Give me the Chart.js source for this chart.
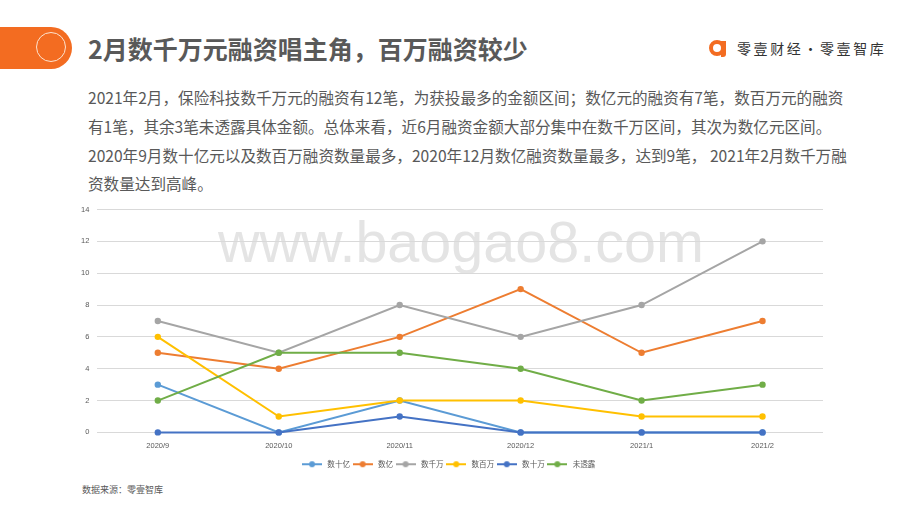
<!DOCTYPE html>
<html>
<head>
<meta charset="utf-8">
<script src="https://cdn.jsdelivr.net/npm/chart.js@4.4.0/dist/chart.umd.min.js"></script>
<style>
  html, body { margin: 0; padding: 0; background: #fff; }
  body { width: 920px; height: 518px; position: relative; overflow: hidden; font-family: "Noto Sans CJK SC", "Noto Sans", sans-serif; }
  .bar { position: absolute; left: 0; top: 27px; width: 72px; height: 42px; background: #f36c21; border-radius: 0 21px 21px 0; }
  .ring { position: absolute; left: 36px; top: 5px; width: 30px; height: 30px; border: 1.5px solid #fde3cf; border-radius: 50%; box-sizing: border-box; }
  .title { position: absolute; left: 88px; top: 31px; font-size: 25px; font-weight: bold; color: #595959; white-space: nowrap; line-height: 34px; }
  .logo { position: absolute; left: 709px; top: 39px; width: 18px; height: 18px; }
  .logo .o { position: absolute; left: 0; top: 1px; width: 16px; height: 16px; border: 4.5px solid #f36c21; border-radius: 50%; box-sizing: border-box; }
  .logo .t { position: absolute; left: 12px; top: 2px; width: 5px; height: 16px; background: #f36c21; border-radius: 0 0 3px 0; }
  .brand { position: absolute; left: 737px; top: 38px; font-size: 14px; letter-spacing: 2.6px; color: #333; white-space: nowrap; line-height: 20px; }
  .para { position: absolute; left: 88px; font-size: 15.6px; color: #595959; white-space: nowrap; line-height: 22px; }
  .wm { position: absolute; left: 218px; top: 212px; font-family: "Liberation Sans", Arial, sans-serif; font-size: 57.5px; color: #e4e4e4; white-space: nowrap; line-height: 60px; }
  .src { position: absolute; left: 82px; top: 483px; font-size: 9px; color: #595959; white-space: nowrap; }
  .chartbox { position: absolute; left: 60px; top: 197px; width: 780px; height: 281px; }
</style>
</head>
<body>
<div class="bar"><div class="ring"></div></div>
<div class="title">2月数千万元融资唱主角，百万融资较少</div>
<div class="logo"><div class="o"></div><div class="t"></div></div>
<div class="brand">零壹财经·零壹智库</div>

<div class="para" style="top:86px">2021年2月，保险科技数千万元的融资有12笔，为获投最多的金额区间；数亿元的融资有7笔，数百万元的融资</div>
<div class="para" style="top:115px">有1笔，其余3笔未透露具体金额。总体来看，近6月融资金额大部分集中在数千万区间，其次为数亿元区间。</div>
<div class="para" style="top:144px">2020年9月数十亿元以及数百万融资数量最多，2020年12月数亿融资数量最多，达到9笔， 2021年2月数千万融</div>
<div class="para" style="top:172px">资数量达到高峰。</div>

<div class="wm">www.baogao8.com</div>
<div class="chartbox"><canvas id="chart"></canvas></div>
<div class="src">数据来源：零壹智库</div>

<script>
// months on the x axis
const months = ['2020/9', '2020/10', '2020/11', '2020/12', '2021/1', '2021/2'];

// number of deals per amount range
const shiYi    = [3, 0, 2, 0, 0, 0];   // 数十亿
const yi       = [5, 4, 6, 9, 5, 7];   // 数亿
const qianWan  = [7, 5, 8, 6, 8, 12];  // 数千万
const baiWan   = [6, 1, 2, 2, 1, 1];   // 数百万
const shiWan   = [0, 0, 1, 0, 0, 0];   // 数十万
const weiTouLu = [2, 5, 5, 4, 2, 3];   // 未透露

const seriesNames  = ['数十亿', '数亿', '数千万', '数百万', '数十万', '未透露'];
const seriesData   = [shiYi, yi, qianWan, baiWan, shiWan, weiTouLu];
const seriesColors = ['#5b9bd5', '#ed7d31', '#a5a5a5', '#ffc000', '#4472c4', '#70ad47'];

// legend marker: short line with a dot in the middle
function legendMarker(color) {
    const c = document.createElement('canvas');
    c.width = 20; c.height = 8;
    const g = c.getContext('2d');
    g.strokeStyle = color; g.lineWidth = 2;
    g.beginPath(); g.moveTo(0, 4); g.lineTo(20, 4); g.stroke();
    g.fillStyle = color;
    g.beginPath(); g.arc(10, 4, 3, 0, Math.PI * 2); g.fill();
    return c;
}

const ctx = document.getElementById('chart').getContext('2d');
new Chart(ctx, {
    type: 'line',
    data: {
        labels: months,
        datasets: seriesNames.map((name, i) => ({
            label: name,
            data: seriesData[i],
            borderColor: seriesColors[i],
            backgroundColor: seriesColors[i],
            borderWidth: 2,
            pointRadius: 3.2,
            pointBorderWidth: 0,
            tension: 0,
            clip: false,
            order: seriesNames.length - i // later series drawn on top, like the original
        }))
    },
    options: {
        responsive: true,
        maintainAspectRatio: false,
        animation: false,
        layout: { padding: { left: 13, right: 17, top: 6, bottom: 0 } },
        scales: {
            x: {
                offset: true,
                grid: { display: false, drawTicks: false },
                border: { display: false },
                ticks: { color: '#595959', font: { size: 7.5, family: 'Liberation Sans' }, maxRotation: 0, padding: 9 }
            },
            y: {
                min: 0,
                max: 14,
                ticks: { stepSize: 2, color: '#595959', font: { size: 7.5, family: 'Liberation Sans' }, padding: 8 },
                grid: { color: '#d9d9d9', drawTicks: false },
                border: { display: false }
            }
        },
        plugins: {
            legend: {
                position: 'bottom',
                labels: {
                    usePointStyle: true,
                    pointStyleWidth: 23,
                    color: '#595959',
                    padding: 1,
                    font: { size: 7.6, family: 'Noto Sans CJK SC' },
                    generateLabels(chart) {
                        return chart.data.datasets.map((ds, i) => ({
                            text: ds.label,
                            fontColor: '#595959',
                            pointStyle: legendMarker(seriesColors[i]),
                            datasetIndex: i,
                            lineWidth: 0,
                            strokeStyle: 'transparent',
                            fillStyle: seriesColors[i]
                        }));
                    }
                }
            },
            tooltip: { enabled: false }
        }
    }
});
</script>
</body>
</html>
